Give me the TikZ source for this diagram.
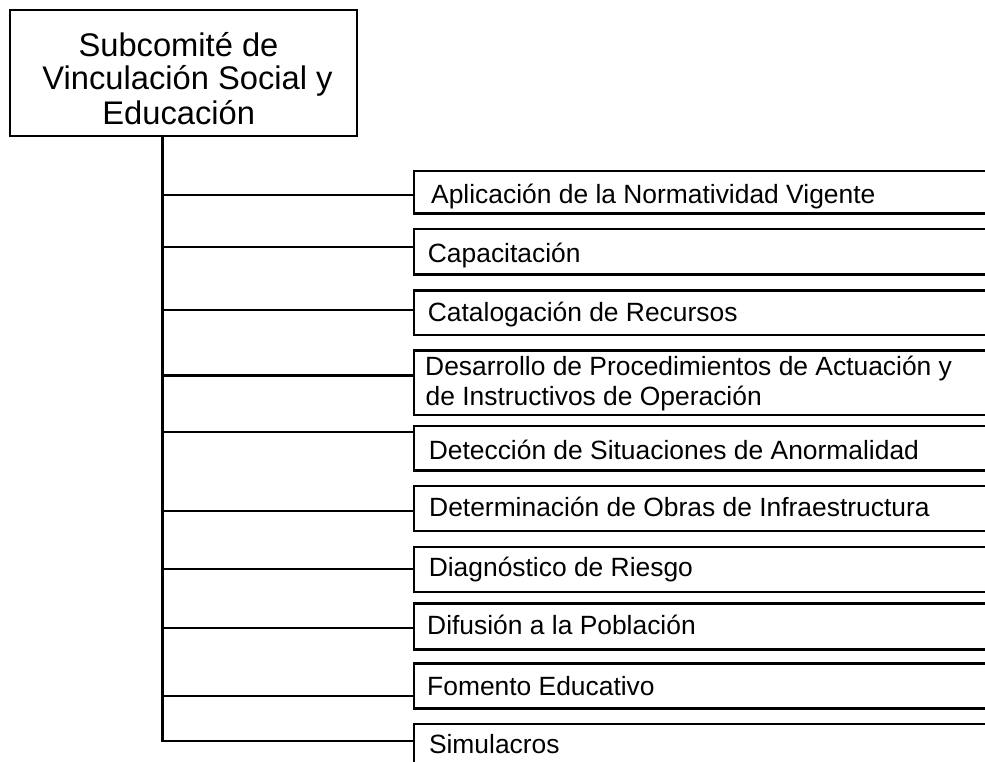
\documentclass[tikz,border=0pt]{standalone}
\usepackage{fontspec}
\setmainfont{Liberation Sans}
\begin{document}
\begin{tikzpicture}[x=1pt,y=-1pt,
  bx/.style={draw=black, line width=2.3pt, fill=white, inner sep=0pt, minimum width=620pt, anchor=north west},
  topbox/.style={draw=black, line width=2.3pt, inner sep=0pt, minimum width=347pt, minimum height=126pt, anchor=north west},
  lbl/.style={inner sep=0pt, anchor=base west, font=\fontsize{26.4}{29.3}\selectfont},
  ttl/.style={inner sep=0pt, anchor=base, font=\fontsize{32.7}{34}\selectfont},
  conn/.style={draw=black, line width=2.3pt}]
\clip (0,0) rectangle (985,762);
\fill[white] (0,0) rectangle (985,762);
% top box
\node[topbox] (top) at (9,9) {};
\node[ttl] (top1) at (178.5,56.7) {Subcomité de};
\node[ttl] (top2) at (187.5,90) {Vinculación Social y};
\node[ttl] (top3) at (178.7,124.5) {Educación};
% branch boxes
\node[bx, minimum height=42.3pt] (b1) at (413,170) {};
\node[bx, minimum height=45.6pt] (b2) at (413,227.7) {};
\node[bx, minimum height=44.7pt] (b3) at (413,289.3) {};
\node[bx, minimum height=64.7pt] (b4) at (413,349.3) {};
\node[bx, minimum height=44.3pt] (b5) at (413,425) {};
\node[bx, minimum height=45pt] (b6) at (413,485) {};
\node[bx, minimum height=44.7pt] (b7) at (413,546) {};
\node[bx, minimum height=46pt] (b8) at (413,602.3) {};
\node[bx, minimum height=45pt] (b9) at (413,662.3) {};
\node[bx, minimum height=60pt] (b10) at (413,722.7) {};
% labels
\node[lbl] (t1) at (431,204) {Aplicación de la Normatividad Vigente};
\node[lbl] (t2) at (427.7,262.7) {Capacitación};
\node[lbl] (t3) at (427.7,321.7) {Catalogación de Recursos};
\node[lbl] (t4a) at (425,375.7) {Desarrollo de Procedimientos de Actuación y};
\node[lbl] (t4b) at (425.5,405) {de Instructivos de Operación};
\node[lbl] (t5) at (428.6,459.3) {Detección de Situaciones de Anormalidad};
\node[lbl] (t6) at (429,516) {Determinación de Obras de Infraestructura};
\node[lbl] (t7) at (428.6,576.7) {Diagnóstico de Riesgo};
\node[lbl] (t8) at (427,634) {Difusión a la Población};
\node[lbl] (t9) at (427,695) {Fomento Educativo};
\node[lbl] (t10) at (428.8,753.3) {Simulacros};
% trunk and junctions
\coordinate (tk) at (162.5,135);
\coordinate (j1) at (162.5,194.7);
\coordinate (j2) at (162.5,246.7);
\coordinate (j3) at (162.5,310.3);
\coordinate (j4) at (162.5,375.5);
\coordinate (j5) at (162.5,431.7);
\coordinate (j6) at (162.5,511);
\coordinate (j7) at (162.5,569);
\coordinate (j8) at (162.5,627.7);
\coordinate (j9) at (162.5,695.7);
\coordinate (j10) at (162.5,740.7);
\draw[conn] (tk) -- (j10) -- (j10 -| b10.west);
\foreach \i in {1,...,9} {
  \draw[conn] (j\i) -- (j\i -| b\i.west);
}
\end{tikzpicture}
\end{document}
